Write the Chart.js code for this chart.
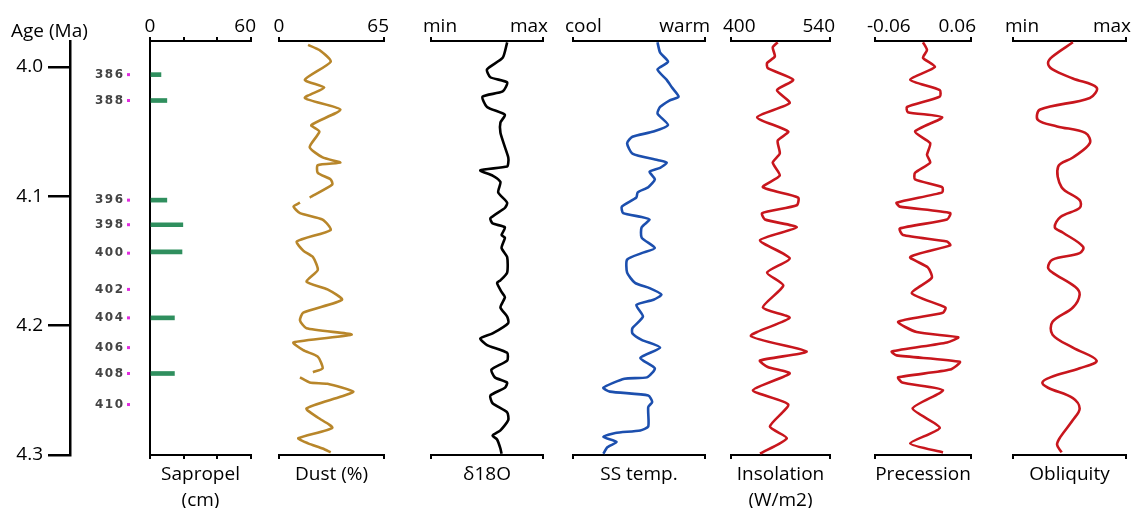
<!DOCTYPE html>
<html>
<head>
<meta charset="utf-8">
<script src="https://cdn.jsdelivr.net/npm/chart.js@4/dist/chart.umd.min.js"></script>
<style>
html, body { margin: 0; padding: 0; background: #fff; overflow: hidden; }
body { position: relative; width: 1131px; height: 508px; }
canvas { position: absolute; top: 0; }
</style>
</head>
<body>
<script>
// ages in Ma
var ageTicks = [4.0, 4.1, 4.2, 4.3];

var sapAge = [4.006, 4.026, 4.103, 4.122, 4.143, 4.194, 4.237];
var sapCm  = [6.5, 10, 10, 19.5, 19, 14.5, 14.5];

var cycleAge  = [4.006, 4.026, 4.103, 4.122, 4.144, 4.172, 4.194, 4.217, 4.237, 4.261];
var cycleName = ['386', '388', '396', '398', '400', '402', '404', '406', '408', '410'];

// null = break in the dust record
var dustAge = [3.983,3.987,3.996,4.010,4.016,4.024,4.033,4.045,4.050,4.062,4.070,4.074,4.076,4.082,4.087,4.091,4.101,4.103,4.105,4.108,4.113,4.118,4.126,4.135,4.142,4.147,4.157,4.166,4.172,4.180,4.190,4.196,4.202,4.207,4.213,4.219,4.224,4.233,4.236,4.238,4.240,4.244,4.245,4.251,4.255,4.264,4.271,4.279,4.287,4.291,4.295,4.298];
var dustPct = [18,25,32,16,28,16,38,20,25,19,27,38,24,24,32,33,19,null,13,9,13,27,32,11,15,21,24,17,30,39,15,13,17,45,9,15,24,27,21,null,13,19,30,46,38,17,24,33,12,18,27,32];

var d18Age = [3.981,3.993,4.002,4.008,4.012,4.019,4.023,4.031,4.037,4.043,4.051,4.062,4.070,4.074,4.077,4.080,4.084,4.089,4.097,4.105,4.109,4.117,4.121,4.124,4.130,4.132,4.140,4.147,4.159,4.165,4.167,4.174,4.178,4.186,4.193,4.198,4.206,4.210,4.215,4.221,4.227,4.234,4.240,4.244,4.248,4.254,4.260,4.267,4.273,4.281,4.285,4.288,4.295,4.299];
var d18Val = [.68,.64,.50,.53,.68,.64,.46,.50,.66,.62,.62,.66,.69,.69,.68,.44,.55,.62,.60,.68,.66,.53,.55,.66,.63,.66,.63,.68,.68,.62,.59,.63,.66,.62,.68,.69,.55,.44,.50,.68,.68,.54,.57,.68,.66,.53,.55,.68,.69,.62,.55,.59,.62,.63];

var sstAge = [3.981,3.989,3.996,4.002,4.010,4.016,4.023,4.026,4.031,4.036,4.045,4.050,4.054,4.059,4.067,4.072,4.074,4.078,4.081,4.087,4.093,4.097,4.101,4.108,4.113,4.116,4.118,4.124,4.132,4.140,4.144,4.149,4.159,4.167,4.171,4.176,4.180,4.184,4.193,4.202,4.206,4.211,4.217,4.225,4.233,4.240,4.241,4.248,4.251,4.254,4.259,4.263,4.278,4.281,4.283,4.286,4.290,4.294,4.299];
var sstVal = [.64,.66,.72,.64,.71,.75,.80,.73,.66,.64,.72,.61,.45,.41,.45,.64,.71,.66,.58,.62,.57,.49,.48,.37,.38,.52,.58,.52,.52,.62,.52,.41,.41,.47,.58,.67,.61,.48,.53,.45,.45,.52,.66,.51,.62,.56,.39,.23,.28,.57,.60,.57,.57,.51,.32,.23,.33,.26,.23];

var insAge = [3.981,3.985,3.992,3.997,4.001,4.010,4.018,4.028,4.039,4.050,4.057,4.067,4.074,4.084,4.093,4.101,4.107,4.113,4.118,4.124,4.134,4.148,4.159,4.169,4.186,4.194,4.208,4.220,4.227,4.232,4.237,4.250,4.261,4.278,4.287,4.299];
var insWm2 = [466,459,462,451,452,488,465,483,437,481,466,469,459,469,445,495,493,444,448,493,441,483,451,474,445,483,428,507,441,452,483,431,481,455,479,441];

var preAge = [3.981,3.987,3.993,4.000,4.010,4.018,4.023,4.031,4.035,4.039,4.050,4.059,4.068,4.074,4.082,4.087,4.093,4.097,4.105,4.108,4.113,4.118,4.125,4.130,4.135,4.138,4.147,4.155,4.163,4.175,4.186,4.190,4.197,4.205,4.209,4.213,4.220,4.223,4.228,4.234,4.240,4.244,4.250,4.264,4.279,4.291,4.298];
var preVal = [0.000,0.005,0.000,0.015,-0.016,0.021,0.021,-0.020,-0.019,0.024,-0.010,0.009,0.005,0.009,-0.010,-0.010,0.024,0.024,-0.033,-0.029,0.034,0.030,-0.029,-0.025,0.030,0.034,-0.016,0.006,0.011,-0.014,0.028,0.025,-0.031,-0.008,0.044,0.030,-0.039,-0.033,0.046,0.034,-0.031,-0.026,0.025,-0.013,0.021,-0.016,0.025];

var oblAge = [3.981,3.992,3.997,4.002,4.009,4.016,4.024,4.033,4.041,4.046,4.051,4.059,4.070,4.077,4.093,4.103,4.109,4.116,4.124,4.128,4.139,4.144,4.149,4.155,4.159,4.170,4.176,4.186,4.197,4.207,4.217,4.227,4.233,4.240,4.244,4.248,4.256,4.264,4.273,4.286,4.292,4.298];
var oblVal = [.53,.35,.31,.35,.53,.74,.68,.24,.22,.39,.64,.68,.53,.40,.43,.59,.59,.42,.37,.44,.62,.59,.35,.31,.35,.55,.59,.53,.35,.35,.53,.74,.59,.33,.26,.31,.53,.59,.53,.42,.39,.43];

var FONT = "'Open Sans', sans-serif";
Chart.defaults.font.family = FONT;
Chart.defaults.color = '#000';

var AGE_MIN = 3.98, AGE_MAX = 4.3;
var H = 520;

function addCanvas(left, width) {
    var c = document.createElement('canvas');
    c.width = width;
    c.height = H;
    c.style.left = left + 'px';
    document.body.appendChild(c);
    return c;
}

function points(ages, vals) {
    return ages.map(function (a, i) { return {x: vals[i], y: a}; });
}

// left age axis + the sapropel cycle numbers
var cyclePlugin = {
    id: 'cycles',
    afterDraw: function (chart) {
        var ctx = chart.ctx, y = chart.scales.y;
        ctx.save();
        ctx.font = '19px ' + FONT;
        ctx.fillStyle = '#000';
        ctx.textAlign = 'left';
        ctx.textBaseline = 'alphabetic';
        ctx.fillText('Age (Ma)', 11, 37);
        ctx.font = "bold 12px 'DejaVu Sans'";
        ctx.letterSpacing = '1.5px';
        ctx.textAlign = 'right';
        ctx.textBaseline = 'middle';
        for (var i = 0; i < cycleAge.length; i++) {
            var py = y.getPixelForValue(cycleAge[i]);
            ctx.fillStyle = '#444';
            ctx.fillText(cycleName[i], 124.5, py);
            ctx.fillStyle = '#e22de0';
            ctx.fillRect(127, py - 1.5, 3, 3);
        }
        ctx.restore();
    }
};

// end labels above each panel's top bracket
var endLabels = {
    id: 'endLabels',
    afterDraw: function (chart, args, opts) {
        var s = chart.scales.xTop, ctx = chart.ctx;
        ctx.save();
        ctx.font = '19px ' + FONT;
        ctx.fillStyle = '#000';
        ctx.textBaseline = 'alphabetic';
        var a = opts.labels[0], b = opts.labels[1];
        var x0 = s.getPixelForValue(s.min), x1 = s.getPixelForValue(s.max);
        ctx.textAlign = 'left';
        ctx.fillText(a, x0 - Math.min(8, ctx.measureText(a).width / 2), 32);
        ctx.textAlign = 'right';
        ctx.fillText(b, x1 + 5, 32);
        ctx.restore();
    }
};

new Chart(addCanvas(0, 148), {
    type: 'scatter',
    data: {datasets: []},
    options: {
        responsive: false,
        animation: false,
        layout: {padding: {top: 41, bottom: H - 455, left: 0, right: 0}},
        plugins: {legend: {display: false}, tooltip: {enabled: false}},
        scales: {
            x: {display: false, min: 0, max: 1},
            y: {
                type: 'linear', reverse: true, min: AGE_MIN, max: AGE_MAX,
                afterFit: function (s) { s.width = 70; },
                afterBuildTicks: function (s) { s.ticks = ageTicks.map(function (v) { return {value: v}; }); },
                ticks: {font: {size: 19}, padding: 5, callback: function (v) { return v.toFixed(1); }},
                grid: {drawOnChartArea: false, tickLength: 22, lineWidth: 2.5, color: '#000'},
                border: {width: 2.5, color: '#000'}
            }
        }
    },
    plugins: [cyclePlugin]
});

function panel(p) {
    var pad = 45;
    var cv = addCanvas(p.x0 - pad, p.x1 - p.x0 + 2 * pad);
    var tickVals = p.ticks || [p.min, p.max];
    var setTicks = function (s) { s.ticks = tickVals.map(function (v) { return {value: v}; }); };
    var isBar = p.type === 'bar';
    var ds;
    if (isBar) {
        ds = {data: points(p.ages, p.vals), backgroundColor: p.color, barThickness: 4, xAxisID: 'x', yAxisID: 'y'};
    } else {
        ds = {data: points(p.ages, p.vals), showLine: true, spanGaps: false, borderColor: p.color, borderWidth: 2.6,
              pointRadius: 0, tension: p.tension || 0.2, clip: false, xAxisID: 'x', yAxisID: 'y'};
    }
    var bracket = {drawOnChartArea: false, tickLength: 4, lineWidth: 2, color: '#000'};
    new Chart(cv, {
        type: isBar ? 'bar' : 'scatter',
        data: {datasets: [ds]},
        options: {
            responsive: false,
            animation: false,
            indexAxis: isBar ? 'y' : 'x',
            layout: {padding: {left: pad, right: pad, top: 0, bottom: 0}},
            plugins: {legend: {display: false}, tooltip: {enabled: false}, endLabels: {labels: p.labels}},
            scales: {
                xTop: {
                    type: 'linear', position: 'top', min: p.min, max: p.max,
                    afterFit: function (s) { s.height = 41; },
                    afterBuildTicks: setTicks,
                    ticks: {display: false},
                    grid: bracket,
                    border: {width: 2, color: '#000'}
                },
                x: {
                    type: 'linear', position: 'bottom', min: p.min, max: p.max,
                    afterFit: function (s) { s.height = H - 455; },
                    afterBuildTicks: setTicks,
                    ticks: {display: false},
                    grid: bracket,
                    border: {width: 2, color: '#000'},
                    title: {display: true, text: p.title, font: {size: 19, lineHeight: 1.4},
                            padding: {top: 0, bottom: 6}}
                },
                y: {
                    type: 'linear', reverse: true, min: AGE_MIN, max: AGE_MAX,
                    offset: false,
                    display: !!p.leftLine,
                    afterFit: function (s) { s.width = 0; },
                    ticks: {display: false},
                    grid: {display: false, offset: false},
                    border: {display: true, width: 2, color: '#000'}
                }
            }
        },
        plugins: [endLabels]
    });
}

panel({x0: 150, x1: 251, min: 0, max: 60, ticks: [0, 20, 40, 60], labels: ['0', '60'],
       title: ['Sapropel', '(cm)'], type: 'bar', ages: sapAge, vals: sapCm, color: '#2f8f5e', leftLine: true});
panel({x0: 279, x1: 384, min: 0, max: 65, labels: ['0', '65'], title: ['Dust (%)', ''],
       ages: dustAge, vals: dustPct, color: '#b8862a'});
panel({x0: 431, x1: 543, min: 0, max: 1, labels: ['min', 'max'], title: ['\u03b418O', ''],
       ages: d18Age, vals: d18Val, color: '#000'});
panel({x0: 573, x1: 705, min: 0, max: 1, labels: ['cool', 'warm'], title: ['SS temp.', ''],
       ages: sstAge, vals: sstVal, color: '#1c4fae'});
panel({x0: 731, x1: 830, min: 400, max: 540, labels: ['400', '540'], title: ['Insolation', '(W/m2)'],
       ages: insAge, vals: insWm2, color: '#c8161d'});
panel({x0: 875, x1: 971, min: -0.06, max: 0.06, labels: ['-0.06', '0.06'], title: ['Precession', ''],
       ages: preAge, vals: preVal, color: '#c8161d'});
panel({x0: 1013, x1: 1126, min: 0, max: 1, labels: ['min', 'max'], title: ['Obliquity', ''],
       ages: oblAge, vals: oblVal, color: '#c8161d', tension: 0.35});
</script>
</body>
</html>
